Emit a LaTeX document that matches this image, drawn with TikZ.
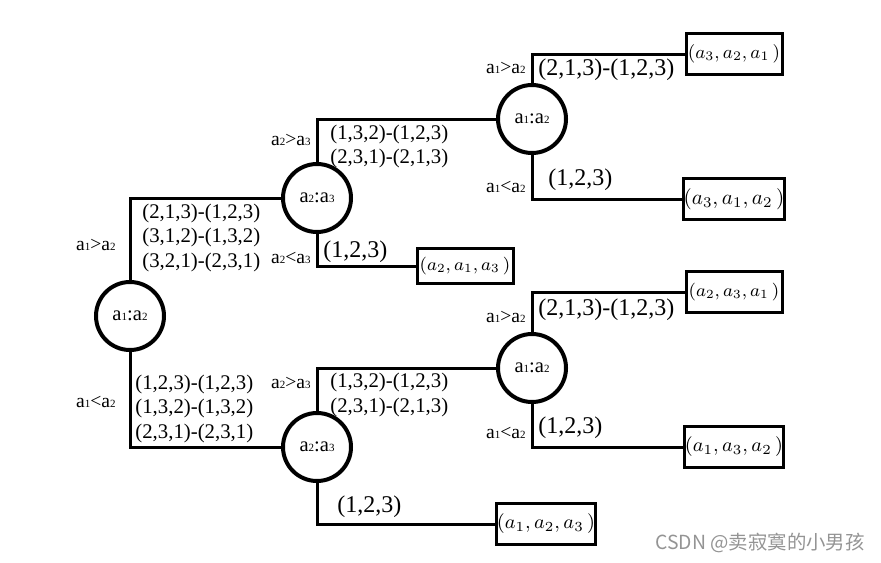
\documentclass[tikz,border=0pt]{standalone}
\usepackage{fix-cm}
\usepackage{fontspec}
\setmainfont{Liberation Serif}
\newfontfamily\cjkfont{Noto Sans CJK SC}
\usetikzlibrary{positioning}
\newcommand{\an}[1]{a{\fontsize{5.5}{6}\selectfont #1}}
\tikzset{
  cmp/.style={circle,draw,line width=2pt,minimum size=34pt,inner sep=0pt,font=\fontsize{10.3}{12}\selectfont},
  leaf/.style={draw,line width=1.5pt,minimum width=48pt,minimum height=20.5pt,inner sep=0pt},
  edge/.style={line width=1.5pt},
  rel/.style={anchor=east,inner sep=0pt,font=\fontsize{9.8}{11}\selectfont},
  perm/.style={anchor=west,inner sep=0pt,align=left,font=\fontsize{10.4}{12.25}\selectfont},
  permbig/.style={perm,font=\fontsize{12}{14}\selectfont},
}
\begin{document}
\begin{tikzpicture}[x=0.5pt,y=-0.5pt]
                    \useasboundingbox (0,0) rectangle (881,562);
                    
                    % Drawing comparisons
                    \node [cmp] (r12) at (130,316) {\an{1}:\an{2}};%
                    \node [cmp] (u23) at (317,198) {\an{2}:\an{3}};%
                    \node [cmp] (l23) at (317,447) {\an{2}:\an{3}};%
                    \node [cmp] (ur12) at (532,119) {\an{1}:\an{2}};%
                    \node [cmp] (lr12) at (532,368) {\an{1}:\an{2}};%
                    
                    % Drawing leaves
                    \node [leaf] (p321) at (734,54) {\fontsize{9.3}{10}\selectfont $(a_3,a_2,a_1\,)$};%
                    \node [leaf] (p312) at (734,199) {\fontsize{10.6}{12}\selectfont $(a_3,a_1,a_2\,)$};%
                    \node [leaf, minimum height=17.5pt] (p213) at (465,266) {\fontsize{8.9}{10}\selectfont $(a_2,a_1,a_3\,)$};%
                    \node [leaf] (p231) at (734,292) {\fontsize{8.9}{10}\selectfont $(a_2,a_3,a_1\,)$};%
                    \node [leaf] (p132) at (734,447) {\fontsize{9.9}{11}\selectfont $(a_1,a_3,a_2\,)$};%
                    \node [leaf] (p123) at (546,524) {\fontsize{9.9}{11}\selectfont $(a_1,a_2,a_3\,)$};%
                    
                    % Drawing branches
                    \draw [edge] (r12.north) |- (u23.west);%
                    \draw [edge] (r12.south) |- (l23.west);%
                    \draw [edge] (u23.north) |- (ur12.west);%
                    \draw [edge] (u23.south) |- (p213.west);%
                    \draw [edge] (l23.north) |- (lr12.west);%
                    \draw [edge] (l23.south) |- (p123.west);%
                    \draw [edge] (ur12.north) |- (p321.west);%
                    \draw [edge] (ur12.south) |- (p312.west);%
                    \draw [edge] (lr12.north) |- (p231.west);%
                    \draw [edge] (lr12.south) |- (p132.west);%
                    
                    % Marking relations
                    \node [rel] (rr1) at (116,245) {\an{1}>\an{2}};%
                    \node [rel] (rr2) at (116,402) {\an{1}<\an{2}};%
                    \node [rel] (ru1) at (311,140) {\an{2}>\an{3}};%
                    \node [rel] (ru2) at (311,258) {\an{2}<\an{3}};%
                    \node [rel] (rl1) at (311,383) {\an{2}>\an{3}};%
                    \node [rel] (rur1) at (526,68) {\an{1}>\an{2}};%
                    \node [rel] (rur2) at (526,187) {\an{1}<\an{2}};%
                    \node [rel] (rlr1) at (526,317) {\an{1}>\an{2}};%
                    \node [rel] (rlr2) at (526,433) {\an{1}<\an{2}};%
                    
                    % Marking permutations
                    \node [perm] (tr1) at (142,237.5) {(2,1,3)-(1,2,3)\\(3,1,2)-(1,3,2)\\(3,2,1)-(2,3,1)};%
                    \node [perm] (tr2) at (135,408.5) {(1,2,3)-(1,2,3)\\(1,3,2)-(1,3,2)\\(2,3,1)-(2,3,1)};%
                    \node [perm] (tu1) at (330,146.5) {(1,3,2)-(1,2,3)\\(2,3,1)-(2,1,3)};%
                    \node [permbig] (tu2) at (323,252) {(1,2,3)};%
                    \node [perm] (tl1) at (330,395) {(1,3,2)-(1,2,3)\\(2,3,1)-(2,1,3)};%
                    \node [permbig] (tl2) at (337,507) {(1,2,3)};%
                    \node [permbig] (tur1) at (538,70) {(2,1,3)-(1,2,3)};%
                    \node [permbig] (tur2) at (548,180) {(1,2,3)};%
                    \node [permbig] (tlr1) at (538,310) {(2,1,3)-(1,2,3)};%
                    \node [permbig] (tlr2) at (538,428) {(1,2,3)};%
                    
                    % Marking watermark
                    \node [anchor=west, inner sep=0pt, text=black!42, font=\fontsize{9.7}{11}\cjkfont] (mark) at (655,543) {CSDN @卖寂寞的小男孩};%
\end{tikzpicture}
\end{document}
